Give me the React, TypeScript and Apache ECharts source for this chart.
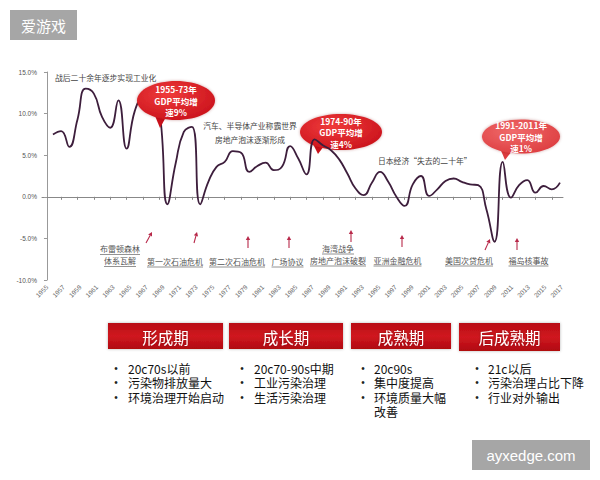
import { useEffect, useRef } from "react";
import * as echarts from "echarts";

// ---------- data ----------
const years = [
  1955, 1956, 1957, 1958, 1959, 1960, 1961, 1962, 1963, 1964, 1965, 1966, 1967, 1968, 1969, 1970,
  1971, 1972, 1973, 1974, 1975, 1976, 1977, 1978, 1979, 1980, 1981, 1982, 1983, 1984, 1985, 1986,
  1987, 1988, 1989, 1990, 1991, 1992, 1993, 1994, 1995, 1996, 1997, 1998, 1999, 2000, 2001, 2002,
  2003, 2004, 2005, 2006, 2007, 2008, 2009, 2010, 2011, 2012, 2013, 2014, 2015, 2016, 2017,
];
const gdpGrowth = [
  7.5, 7.9, 6.0, 9.3, 13.0, 12.4, 9.6, 8.3, 11.6, 5.8, 10.3, 12.0, 12.3, 10.5, -0.9, 4.0,
  7.8, 8.4, -0.9, 1.8, 3.6, 4.2, 5.5, 5.3, 3.0, 3.7, 4.1, 3.2, 3.6, 6.1, 4.6, 2.7,
  6.9, 6.2, 5.6, 4.5, 2.8, 1.0, 0.2, 1.7, 3.0, 1.8, 0.0, -1.1, 1.5, 2.5, 0.1, 0.9,
  1.9, 2.2, 1.8, 1.5, 1.4, -1.5, -5.4, 4.2, -0.1, 1.4, 2.0, 0.5, 1.3, 0.9, 1.7,
];
const tickYears = [
  "1955", "1957", "1959", "1961", "1963", "1965", "1967", "1969", "1971", "1973", "1975",
  "1977", "1979", "1981", "1983", "1985", "1987", "1989", "1991", "1993", "1995", "1997",
  "1999", "2001", "2003", "2005", "2007", "2009", "2011", "2013", "2015", "2017",
];
const zeroTickYears = [
  1956, 1958, 1960, 1962, 1964, 1966, 1968, 1970, 1972, 1974, 1976, 1978, 1980, 1982, 1984,
  1986, 1988, 1990, 1992, 1994, 1996, 1998, 2000, 2002, 2004, 2006, 2008, 2010, 2012, 2014, 2016,
];
const bubbleTexts = [
  ["1955-73年", "GDP平均增", "速9%"],
  ["1974-90年", "GDP平均增", "速4%"],
  ["1991-2011年", "GDP平均增", "速1%"],
];
const noteTexts = [
  ["战后二十余年逐步实现工业化"],
  ["汽车、半导体产业称霸世界", "房地产泡沫逐渐形成"],
  ["日本经济“失去的二十年”"],
];
const eventTexts = [
  ["布雷顿森林", "体系瓦解"],
  ["第一次石油危机"],
  ["第二次石油危机"],
  ["广场协议"],
  ["海湾战争", "房地产泡沫破裂"],
  ["亚洲金融危机"],
  ["美国次贷危机"],
  ["福岛核事故"],
];
const phases = ["形成期", "成长期", "成熟期", "后成熟期"];
// each inner array: bullet items; "\n" inside an item = wrapped continuation line
const phaseNotes = [
  ["20c70s以前", "污染物排放量大", "环境治理开始启动"],
  ["20c70-90s中期", "工业污染治理", "生活污染治理"],
  ["20c90s", "集中度提高", "环境质量大幅\n改善"],
  ["21c以后", "污染治理占比下降", "行业对外输出"],
];

// ---------- layout ----------
const CJK = '"Noto Sans CJK SC", "Noto Sans", sans-serif';
const bubbleLayout = [
  { cx: 176, cy: 100.5, rx: 39, ry: 19.5, tail: [[153, 111], [166, 117], [160, 128]], z: 20, c0: "#ef3b3b", c1: "#c8101a" },
  { cx: 341, cy: 132, rx: 41, ry: 18, tail: [[311, 140], [324, 146], [318, 154]], z: 1, c0: "#ef3b3b", c1: "#c8101a" },
  { cx: 521, cy: 136.5, rx: 39, ry: 17, tail: [[499, 146], [512, 151], [505, 160]], z: 20, c0: "#f06a6a", c1: "#dc3b3e" },
];
const noteLayout = [
  { x: 55, y: 77, lh: 13 },
  { x: 250, y: 125.5, lh: 13.5 },
  { x: 378, y: 160, lh: 13 },
];
const eventLayout = [
  { cx: 120, y: 248.5 },
  { cx: 175, y: 261 },
  { cx: 237, y: 261 },
  { cx: 287.5, y: 261 },
  { cx: 338, y: 248 },
  { cx: 397.5, y: 260 },
  { cx: 469, y: 260 },
  { cx: 528.5, y: 260 },
];
const arrowLayout = [
  [146, 243, 152, 232],
  [194, 243, 197, 232],
  [248, 248, 248, 236],
  [289, 248, 289, 236],
  [351, 242, 351, 230],
  [402, 247, 402, 235],
  [485, 250, 490, 239],
  [517, 250, 517, 238],
];
const boxLayout = [
  { x: 108, w: 115 },
  { x: 229, w: 114 },
  { x: 351, w: 100 },
  { x: 459, w: 101 },
];
const bulletX = [116, 242, 363, 477];
const noteX = [128, 254, 374, 488];

function buildGraphics(): any[] {
  const g: any[] = [];
  // watermarks
  g.push({ type: "rect", shape: { x: 10, y: 10, width: 67, height: 30 }, style: { fill: "#a6a6a6" }, z: 50 });
  g.push({ type: "text", x: 43.5, y: 25.5, style: { text: "爱游戏", fill: "#fff", fontSize: 15, fontFamily: CJK, align: "center", verticalAlign: "middle" }, z: 51 });
  g.push({ type: "rect", shape: { x: 472, y: 440, width: 118, height: 30 }, style: { fill: "#a6a6a6" }, z: 50 });
  g.push({ type: "text", x: 531, y: 455, style: { text: "ayxedge.com", fill: "#fff", fontSize: 15, fontFamily: "Liberation Sans, Arial, sans-serif", align: "center", verticalAlign: "middle" }, z: 51 });

  // bubbles
  bubbleTexts.forEach((lines, i) => {
    const b = bubbleLayout[i];
    const fill = new echarts.graphic.RadialGradient(0.4, 0.35, 0.75, [
      { offset: 0, color: b.c0 },
      { offset: 1, color: b.c1 },
    ]);
    g.push({ type: "polygon", shape: { points: b.tail }, style: { fill: b.c1 }, z: b.z });
    g.push({ type: "ellipse", shape: { cx: b.cx, cy: b.cy, rx: b.rx, ry: b.ry }, style: { fill, shadowBlur: 3, shadowColor: "rgba(120,0,0,0.35)" }, z: b.z });
    g.push({
      type: "text", x: b.cx, y: b.cy,
      style: { text: lines.join("\n"), fill: "#fff", fontSize: 8.5, fontWeight: "bold", fontFamily: CJK, align: "center", verticalAlign: "middle", lineHeight: 11.5 },
      z: b.z + 1,
    });
  });

  // notes
  noteTexts.forEach((lines, i) => {
    const n = noteLayout[i];
    g.push({
      type: "text", x: n.x, y: n.y - 6.5,
      style: { text: lines.join("\n"), fill: "#444", fontSize: 7.8, fontFamily: CJK, align: i === 1 ? "center" : "left", verticalAlign: "top", lineHeight: n.lh },
      z: 10,
    });
  });

  // events
  eventTexts.forEach((lines, i) => {
    const e = eventLayout[i];
    lines.forEach((t, k) => {
      const y = e.y + k * 12;
      const w = t.length * 8;
      g.push({
        type: "text", x: e.cx, y,
        style: { text: t, fill: "#555", fontSize: 8, fontFamily: CJK, align: "center", verticalAlign: "middle" },
        z: 10,
      });
      g.push({ type: "line", shape: { x1: e.cx - w / 2, y1: y + 6, x2: e.cx + w / 2, y2: y + 6 }, style: { stroke: "#777", lineWidth: 0.8 }, z: 10 });
    });
  });

  // arrows
  arrowLayout.forEach(([x1, y1, x2, y2]) => {
    const dx = x2 - x1, dy = y2 - y1;
    const len = Math.sqrt(dx * dx + dy * dy);
    const ux = dx / len, uy = dy / len;
    const nx = -uy, ny = ux;
    const hl = 4, hw = 2.2;
    const bx = x2 - ux * hl, by = y2 - uy * hl;
    g.push({ type: "line", shape: { x1, y1, x2: bx, y2: by }, style: { stroke: "#b8294a", lineWidth: 1.1 }, z: 10 });
    g.push({
      type: "polygon",
      shape: { points: [[x2, y2], [bx + nx * hw, by + ny * hw], [bx - nx * hw, by - ny * hw]] },
      style: { fill: "#b8294a" }, z: 10,
    });
  });

  // phase boxes + bullet lists
  const LH = 14.5;
  phases.forEach((p, i) => {
    const b = boxLayout[i];
    const fill = new echarts.graphic.LinearGradient(0, 0, 0, 1, [
      { offset: 0, color: "#b80a12" },
      { offset: 0.5, color: "#d01820" },
      { offset: 1, color: "#b00810" },
    ]);
    g.push({
      type: "rect", shape: { x: b.x, y: 323, width: b.w, height: i === 3 ? 28 : 26 },
      style: { fill, shadowBlur: 3, shadowColor: "rgba(0,0,0,0.3)" }, z: 10,
    });
    g.push({
      type: "text", x: b.x + b.w / 2, y: 336.5,
      style: { text: p, fill: "#fff", fontSize: 15.5, fontFamily: CJK, align: "center", verticalAlign: "middle", textShadowBlur: 2, textShadowColor: "rgba(0,0,0,0.3)" },
      z: 11,
    });
    const items = phaseNotes[i];
    const bullets = items.map((t) => "•" + "\n".repeat(t.split("\n").length - 1).replace(/\n/g, "\n ")).join("\n");
    g.push({
      type: "text", x: bulletX[i], y: 361,
      style: { text: bullets, fill: "#222", fontSize: 10, fontFamily: "Liberation Sans, Arial, sans-serif", align: "center", verticalAlign: "top", lineHeight: LH },
      z: 10,
    });
    g.push({
      type: "text", x: noteX[i], y: 361,
      style: { text: items.join("\n"), fill: "#111", fontSize: 12, fontFamily: CJK, align: "left", verticalAlign: "top", lineHeight: LH },
      z: 10,
    });
  });
  return g;
}

export default function App() {
  const ref = useRef<HTMLDivElement>(null);
  useEffect(() => {
    const chart = echarts.init(ref.current!, null, { renderer: "svg" });
    const option: any = {
      animation: false,
      backgroundColor: "#fff",
      grid: { left: 42, right: 37, top: 72, bottom: 200, containLabel: false },
      xAxis: [
        {
          type: "value",
          min: 1953.66,
          max: 2017.37,
          position: "bottom",
          axisLine: { show: true, onZero: true, lineStyle: { color: "#888", width: 1 } },
          axisTick: { show: true, length: 3, inside: false, customValues: zeroTickYears, lineStyle: { color: "#888" } },
          axisLabel: { show: false },
          splitLine: { show: false },
        },
        {
          type: "value",
          min: -0.3,
          max: 31.08,
          position: "bottom",
          axisLine: { show: false, onZero: false },
          axisTick: { show: false },
          splitLine: { show: false },
          axisLabel: {
            show: true,
            customValues: tickYears.map((_, i) => i),
            formatter: (v: number) => tickYears[Math.round(v)] ?? "",
            rotate: 45,
            fontSize: 6.5,
            color: "#666",
            margin: 6,
            fontFamily: "Liberation Sans, Arial, sans-serif",
          },
        },
      ],
      yAxis: {
        type: "value",
        min: -10,
        max: 15,
        interval: 5,
        axisLine: { show: true, lineStyle: { color: "#999" } },
        axisTick: { show: true, length: 3, lineStyle: { color: "#999" } },
        splitLine: { show: false },
        axisLabel: {
          formatter: (v: number) => v.toFixed(1) + "%",
          fontSize: 6.5,
          color: "#555",
          margin: 5,
          fontFamily: "Liberation Sans, Arial, sans-serif",
        },
      },
      series: [
        {
          type: "line",
          xAxisIndex: 0,
          data: years.map((y, i) => [y, gdpGrowth[i]]),
          smooth: 0.5,
          showSymbol: false,
          lineStyle: { color: "#3d1e3c", width: 1.8 },
          z: 5,
        },
      ],
      graphic: buildGraphics(),
    };
    chart.setOption(option);
    return () => chart.dispose();
  }, []);
  return (
    <div
      ref={ref}
      style={{ position: "fixed", left: 0, top: 0, width: 600, height: 480, background: "#fff" }}
    />
  );
}
